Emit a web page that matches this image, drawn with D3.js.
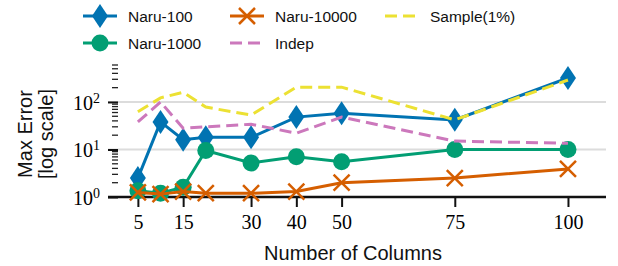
<!DOCTYPE html>
<meta charset="utf-8">
<head>
<style>
  body { margin: 0; background: #fff; }
  .tick text { font-family: "Liberation Serif", serif; font-size: 20px; fill: #000; }
  .lbl { font-family: "Liberation Sans", sans-serif; font-size: 20px; fill: #111; }
  .leg { font-family: "Liberation Sans", sans-serif; font-size: 15.5px; fill: #111; }
</style>
</head>
<body>
<svg id="chart"></svg>
<script src="https://d3js.org/d3.v7.min.js"></script>
<script>
// data
var columns = [5, 10, 15, 20, 30, 40, 50, 75, 100];
var xTicks = [5, 15, 30, 40, 50, 75, 100];
var naru100 = [2.5, 38, 16, 18, 18, 48, 58, 42, 320];
var naru1000 = [1.35, 1.2, 1.6, 9.5, 5.2, 7, 5.5, 10, 10];
var naru10000 = [1.25, 1.15, 1.3, 1.2, 1.2, 1.3, 2.0, 2.5, 3.9];
var indep = [38, 100, 28, 30, 34, 22, 48, 15, 13.5];
var sample = [62, 122, 160, 78, 53, 205, 205, 42, 290];
var names = ["Naru-100", "Naru-1000", "Naru-10000", "Indep", "Sample(1%)"];

var series = [
  {name: names[0], values: naru100, color: "#0173B2", marker: "diamond"},
  {name: names[1], values: naru1000, color: "#029E73", marker: "circle"},
  {name: names[2], values: naru10000, color: "#D55E00", marker: "x"},
  {name: names[3], values: indep, color: "#CC78BC", dash: "12,6"},
  {name: names[4], values: sample, color: "#ECE133", dash: "12,6"}
];

var W = 618, H = 266;
var svg = d3.select("#chart").attr("width", W).attr("height", H);

var plotL = 108, plotR = 606, plotT = 65, plotB = 197;

var x = d3.scaleLinear().domain([-1.6, 108.4]).range([plotL, plotR]);
var y = d3.scaleLog().domain([1, 600]).range([plotB, plotT]);

// grid
svg.append("g").selectAll("line")
  .data([1, 10, 100])
  .enter().append("line")
  .attr("x1", plotL).attr("x2", plotR)
  .attr("y1", function(d) { return y(d); })
  .attr("y2", function(d) { return y(d); })
  .attr("stroke", "#dcdcdc").attr("stroke-width", 2);

// y minor ticks
var minor = [];
[1, 10, 100].forEach(function(dec) {
  for (var k = 2; k <= 9; k++) if (dec * k <= 600) minor.push(dec * k);
});
svg.append("g").selectAll("line")
  .data(minor)
  .enter().append("line")
  .attr("x1", plotL + 4).attr("x2", plotL + 10)
  .attr("y1", function(d) { return y(d); })
  .attr("y2", function(d) { return y(d); })
  .attr("stroke", "#222").attr("stroke-width", 1.3);

// y axis (major)
var yAxis = svg.append("g")
  .attr("transform", "translate(" + (plotL + 10) + ",0)")
  .call(d3.axisLeft(y).tickValues([1, 10, 100]).tickSize(10).tickPadding(6).tickFormat(function() { return ""; }));
yAxis.select(".domain").remove();
yAxis.selectAll(".tick line").attr("stroke", "#111").attr("stroke-width", 2);
yAxis.selectAll(".tick text").each(function(d) {
  var t = d3.select(this).attr("x", -18).attr("dy", "0.36em");
  t.append("tspan").text("10");
  t.append("tspan").attr("dy", "-0.5em").style("font-size", "14px").text(Math.round(Math.log10(d)));
});

// x axis
var xAxis = svg.append("g")
  .attr("transform", "translate(0," + plotB + ")")
  .call(d3.axisBottom(x).tickValues(xTicks).tickSize(10).tickPadding(8).tickSizeOuter(0));
xAxis.select(".domain").attr("stroke", "#111").attr("stroke-width", 2.5)
  .attr("d", "M" + plotL + ",0H" + plotR);
xAxis.selectAll(".tick line").attr("stroke", "#111").attr("stroke-width", 2);

// axis titles
svg.append("text").attr("class", "lbl")
  .attr("x", 353).attr("y", 260)
  .attr("text-anchor", "middle").text("Number of Columns");
svg.append("text").attr("class", "lbl")
  .attr("transform", "translate(32,134) rotate(-90)")
  .attr("text-anchor", "middle").text("Max Error");
svg.append("text").attr("class", "lbl")
  .attr("transform", "translate(53,134) rotate(-90)")
  .attr("text-anchor", "middle").text("[log scale]");

function drawMarker(g, type, color) {
  if (type === "diamond") {
    g.append("path").attr("d", "M0,-12L8,0L0,12L-8,0Z").attr("fill", color);
  } else if (type === "circle") {
    g.append("circle").attr("r", 8.5).attr("fill", color);
  } else if (type === "x") {
    g.append("path").attr("d", "M-8,-8L8,8M-8,8L8,-8")
      .attr("stroke", color).attr("stroke-width", 2.5).attr("fill", "none");
  }
}

var line = d3.line()
  .x(function(d) { return x(d[0]); })
  .y(function(d) { return y(d[1]); });

series.forEach(function(s) {
  var pts = columns.map(function(c, i) { return [c, s.values[i]]; });
  svg.append("path")
    .datum(pts)
    .attr("d", line)
    .attr("fill", "none")
    .attr("stroke", s.color)
    .attr("stroke-width", 3)
    .attr("stroke-dasharray", s.dash || null);
  if (s.marker) {
    pts.forEach(function(p) {
      var g = svg.append("g").attr("transform", "translate(" + x(p[0]) + "," + y(p[1]) + ")");
      drawMarker(g, s.marker, s.color);
    });
  }
});

// legend (column major, 3 columns)
var legPos = [[83, 16], [83, 43], [230, 16], [230, 43], [385, 16]];
series.forEach(function(s, i) {
  var g = svg.append("g").attr("transform", "translate(" + legPos[i][0] + "," + legPos[i][1] + ")");
  g.append("line").attr("x1", 0).attr("x2", 34)
    .attr("stroke", s.color).attr("stroke-width", 3)
    .attr("stroke-dasharray", s.dash || null);
  if (s.marker) {
    var m = g.append("g").attr("transform", "translate(17,0)");
    drawMarker(m, s.marker, s.color);
  }
  g.append("text").attr("class", "leg").attr("x", 45).attr("y", 6).text(s.name);
});
</script>
</body>
